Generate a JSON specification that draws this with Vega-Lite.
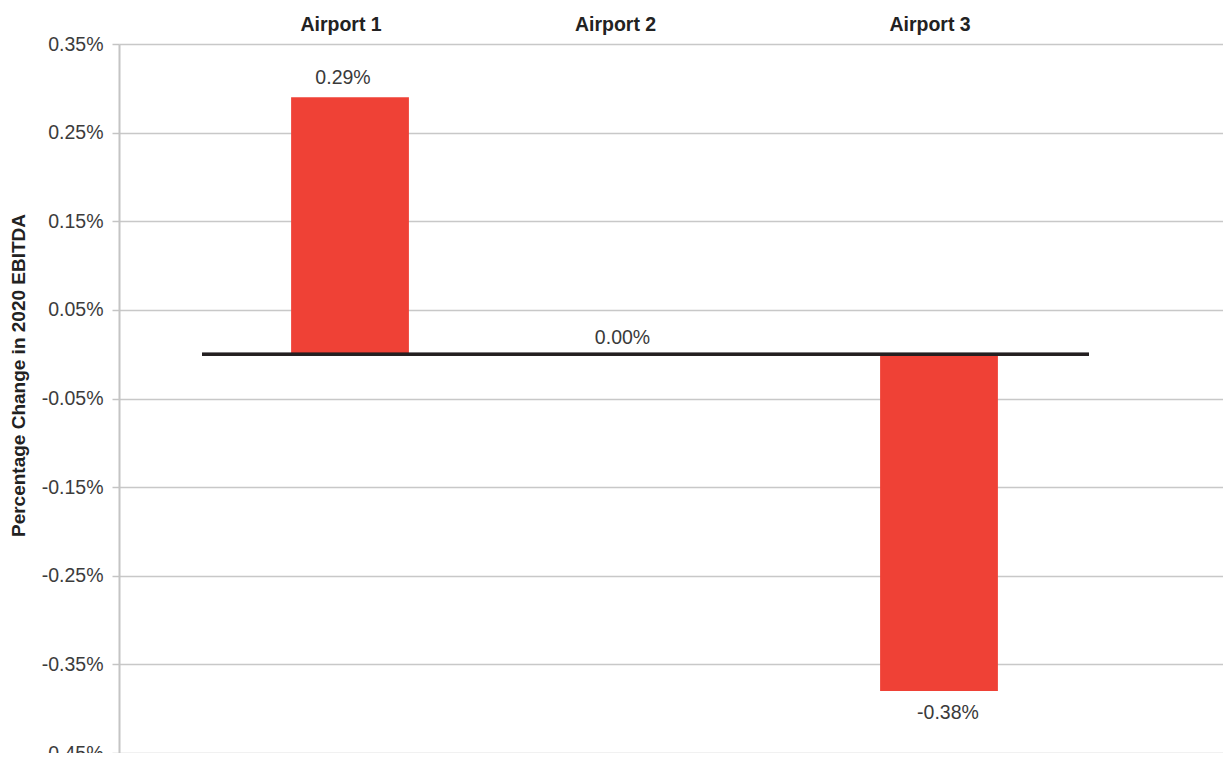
{
  "$schema": "https://vega.github.io/schema/vega-lite/v6.json",
  "autosize": {"type": "none"},
  "padding": {"left": 119, "top": 44, "right": 0, "bottom": 0},
  "width": 1104,
  "height": 709,
  "background": "white",
  "config": {
    "view": {"stroke": null},
    "font": "Liberation Sans",
    "locale": {
      "number": {"decimal": ".", "thousands": ",", "grouping": [3], "currency": ["$", ""], "minus": "-"}
    }
  },
  "data": {
    "values": [
      {"airport": "Airport 1", "value": 0.0029},
      {"airport": "Airport 2", "value": 0.0},
      {"airport": "Airport 3", "value": -0.0038}
    ]
  },
  "encoding": {
    "x": {
      "field": "airport",
      "type": "nominal",
      "sort": null,
      "scale": {"paddingInner": 0.6, "paddingOuter": 0.6744, "align": 0.4333},
      "axis": {
        "orient": "top",
        "title": null,
        "domain": false,
        "ticks": false,
        "tickSize": 0,
        "grid": false,
        "labelAngle": 0,
        "labelFont": "Liberation Sans",
        "labelFontSize": 19.5,
        "labelFontWeight": "bold",
        "labelColor": "#222222",
        "labelBaseline": "alphabetic",
        "labelPadding": 14,
        "labelOffset": {"expr": "datum.label == 'Airport 2' ? -29 : -9"}
      }
    }
  },
  "layer": [
    {
      "mark": {"type": "bar", "color": "#EF4136"},
      "encoding": {
        "y": {
          "field": "value",
          "type": "quantitative",
          "scale": {"domain": [-0.0045, 0.0035], "nice": false, "zero": false},
          "axis": {
            "values": [0.0035, 0.0025, 0.0015, 0.0005, -0.0005, -0.0015, -0.0025, -0.0035, -0.0045],
            "format": ".2%",
            "title": "Percentage Change in 2020 EBITDA",
            "titleFont": "Liberation Sans",
            "titleFontSize": 19,
            "titleFontWeight": "bold",
            "titleColor": "#222222",
            "titleX": -91,
            "titleY": 331,
            "titleAngle": -90,
            "titleAlign": "center",
            "titleBaseline": "bottom",
            "labelFont": "Liberation Sans",
            "labelFontSize": 19.5,
            "labelColor": "#3c3c3c",
            "labelPadding": 9,
            "tickSize": 7,
            "tickColor": "#c4c4c4",
            "tickWidth": 1.5,
            "domainColor": "#c4c4c4",
            "domainWidth": 2,
            "grid": true,
            "gridColor": "#c8c8c8",
            "gridWidth": 1.5
          }
        }
      }
    },
    {
      "mark": {"type": "rule", "color": "#231f20", "strokeWidth": 3},
      "encoding": {
        "x": {"datum": "Airport 1", "bandPosition": -0.756},
        "x2": {"datum": "Airport 3", "bandPosition": 1.773},
        "y": {"datum": 0, "type": "quantitative"}
      }
    },
    {
      "mark": {
        "type": "text",
        "font": "Liberation Sans",
        "fontSize": 19.5,
        "color": "#3a3a3a",
        "baseline": "alphabetic",
        "dx": {"expr": "datum.airport == 'Airport 2' ? -22 : (datum.airport == 'Airport 1' ? -7 : 9)"},
        "dy": {"expr": "datum.value < 0 ? 28 : (datum.value == 0 ? -10 : -13)"}
      },
      "encoding": {
        "y": {"field": "value", "type": "quantitative"},
        "text": {"field": "value", "type": "quantitative", "format": ".2%"}
      }
    }
  ]
}
